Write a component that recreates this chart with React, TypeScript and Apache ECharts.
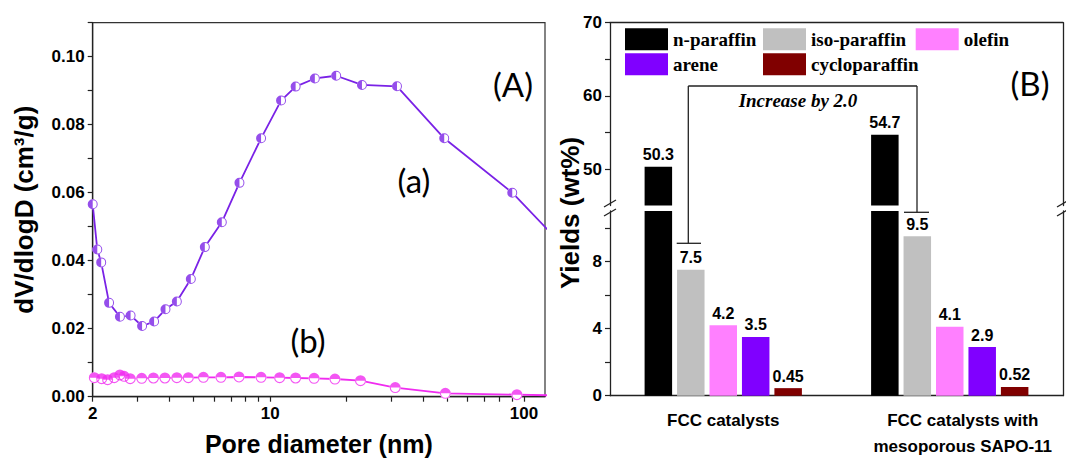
import React, { useEffect, useRef } from "react";
import * as echarts from "echarts";

// ---------- Panel A: pore size distribution ----------
const poreA = [2.0, 2.085, 2.16, 2.32, 2.56, 2.82, 3.13, 3.49, 3.87, 4.29, 4.87, 5.53, 6.45, 7.57, 9.21, 11.04, 12.6, 15.0, 18.2, 23.0, 31.6, 48.5, 89.9, 130];
const dvA = [0.0566, 0.0433, 0.0395, 0.0276, 0.0235, 0.0239, 0.0208, 0.0221, 0.0257, 0.028, 0.0346, 0.044, 0.0513, 0.0629, 0.076, 0.0871, 0.0912, 0.0936, 0.0944, 0.0917, 0.0913, 0.076, 0.06, 0.0475];
const poreB = [2.03, 2.17, 2.29, 2.43, 2.56, 2.66, 2.81, 3.12, 3.47, 3.85, 4.29, 4.76, 5.46, 6.4, 7.54, 9.21, 10.9, 12.6, 14.9, 18.0, 22.7, 31.1, 49.0, 93.8, 130];
const dvB = [0.0056, 0.0053, 0.005, 0.0056, 0.0064, 0.006, 0.0053, 0.0054, 0.0055, 0.0055, 0.0056, 0.0056, 0.0057, 0.0057, 0.0058, 0.0057, 0.0056, 0.0055, 0.0054, 0.0052, 0.0047, 0.0027, 0.001, 0.0006, 0.0004];

const xTickValues = [2, 3, 4, 5, 6, 7, 8, 9, 10, 20, 30, 40, 50, 60, 70, 80, 90, 100];
const xLabelValues = [2, 10, 100];
const yTickValuesA = [0, 0.01, 0.02, 0.03, 0.04, 0.05, 0.06, 0.07, 0.08, 0.09, 0.1, 0.11];
const yLabelValuesA = [0, 0.02, 0.04, 0.06, 0.08, 0.1];

// ---------- Panel B: product yields ----------
const catalysts = ["FCC catalysts", "FCC catalysts with\nmesoporous SAPO-11"];
const productNames = ["n-paraffin", "iso-paraffin", "olefin", "arene", "cycloparaffin"];
const nParaffin = [50.3, 54.7];
const isoParaffin = [7.5, 9.5];
const olefin = [4.2, 4.1];
const arene = [3.5, 2.9];
const cycloparaffin = [0.45, 0.52];
const productValues = [nParaffin, isoParaffin, olefin, arene, cycloparaffin];
const barColors = ["#000000", "#c0c0c0", "#ff80ff", "#8000ff", "#800000"];
const lowerTicks = [0, 2, 4, 6, 8, 10];
const lowerLabels = [0, 4, 8];
const upperTicks = [50, 55, 60, 65, 70];
const upperLabels = [50, 60, 70];

const SANS = "'Liberation Sans', Arial, sans-serif";
const SERIF = "'Liberation Serif', 'Times New Roman', serif";
const AX = "#222";
const PURPLE = "#7a22e6";
const MAGENTA = "#f02cf0";

const HALF_LEFT = "path://M10 0A10 10 0 0 0 10 20A10 10 0 0 0 10 0ZM10 2A8 8 0 0 1 10 18Z";
const HALF_TOP = "path://M0 10A10 10 0 0 1 20 10A10 10 0 0 1 0 10ZM2 10A8 8 0 0 0 18 10Z";

const pair = (xs: number[], ys: number[]) => xs.map((x, i) => [x, ys[i]]);

const axisLine = { show: true, onZero: false, lineStyle: { color: AX, width: 1.3 } };
const tickStyle = { color: AX, width: 1.2 };
const tickLabel = { fontSize: 17, fontWeight: "bold" as const, color: "#000", fontFamily: SANS };

export default function App() {
  const ref = useRef<HTMLDivElement>(null);
  useEffect(() => {
    if (!ref.current) return;
    const chart = echarts.init(ref.current, undefined, { renderer: "svg" });

    const barSeries: any[] = [];
    productNames.forEach((name, k) => {
      barSeries.push({
        type: "bar",
        name,
        xAxisIndex: 1,
        yAxisIndex: 1,
        data: productValues[k],
        barWidth: 27.5,
        barGap: "18%",
        clip: true,
        itemStyle: { color: barColors[k] },
        label: { show: k > 0, position: "top", distance: 4, fontSize: 16, fontWeight: "bold", color: "#000", fontFamily: SANS },
      });
      barSeries.push({
        type: "bar",
        name,
        xAxisIndex: 2,
        yAxisIndex: 2,
        data: productValues[k],
        barWidth: 27.5,
        barGap: "18%",
        clip: true,
        itemStyle: { color: barColors[k] },
        label: { show: k === 0, position: "top", distance: 4, fontSize: 16, fontWeight: "bold", color: "#000", fontFamily: SANS },
      });
    });

    const legendPos = [
      [625, 28.3],
      [763, 28.3],
      [915.7, 28.3],
      [625, 53.3],
      [763, 53.3],
    ];

    const line = (x1: number, y1: number, x2: number, y2: number) => ({
      type: "line",
      shape: { x1, y1, x2, y2 },
      style: { stroke: "#222", lineWidth: 1.3 },
      z: 100,
    });
    const txt = (text: string, x: number, y: number, font: string, extra: any = {}) => ({
      type: "text",
      x,
      y,
      z: 100,
      ...extra,
      style: { text, font, fill: "#000", align: "center", verticalAlign: "middle" },
    });

    chart.setOption({
      animation: false,
      textStyle: { fontFamily: SANS },
      grid: [
        { left: 92.7, top: 22.7, width: 452.3, height: 374, outerBoundsMode: "none", containLabel: false, show: true, borderColor: "#333", borderWidth: 1.2, backgroundColor: "transparent" },
        { left: 610, top: 211, width: 453, height: 184.7, outerBoundsMode: "none", containLabel: false },
        { left: 610, top: 22.7, width: 453, height: 182.9, outerBoundsMode: "none", containLabel: false },
      ],
      legend: productNames.map((n, i) => ({
        data: [n],
        left: legendPos[i][0],
        top: legendPos[i][1],
        padding: 0,
        itemGap: 0,
        itemWidth: 43,
        itemHeight: 22,
        icon: "rect",
        selectedMode: false,
        textStyle: { fontFamily: SERIF, fontWeight: "bold", fontSize: 19, color: "#000" },
      })),
      xAxis: [
        {
          type: "log",
          gridIndex: 0,
          min: 2,
          max: 121,
          logBase: 10,
          axisLine,
          axisTick: { show: true, customValues: xTickValues, length: 5, lineStyle: tickStyle },
          axisLabel: { ...tickLabel, customValues: xLabelValues, margin: 8 },
          splitLine: { show: false },
          name: "Pore diameter (nm)",
          nameLocation: "middle",
          nameGap: 35,
          nameTextStyle: { fontSize: 25, fontWeight: "bold", color: "#000", fontFamily: SANS },
        },
        {
          type: "category",
          gridIndex: 1,
          data: [catalysts[0], { value: catalysts[1], textStyle: { padding: [0, 0, 0, 26] } }],
          axisLine,
          axisTick: { show: false },
          axisLabel: { ...tickLabel, margin: 12, lineHeight: 26, interval: 0 },
        },
        {
          type: "category",
          gridIndex: 2,
          position: "top",
          data: catalysts,
          axisLine,
          axisTick: { show: false },
          axisLabel: { show: false },
        },
      ],
      yAxis: [
        {
          type: "value",
          gridIndex: 0,
          min: 0,
          max: 0.11,
          axisLine,
          axisTick: { show: true, customValues: yTickValuesA, length: 5, lineStyle: tickStyle },
          axisLabel: { ...tickLabel, customValues: yLabelValuesA, margin: 8, formatter: (v: number) => v.toFixed(2) },
          splitLine: { show: false },
          name: "dV/dlogD (cm\u00b3/g)",
          nameLocation: "middle",
          nameRotate: 90,
          nameGap: 56,
          nameTextStyle: { fontSize: 26, fontWeight: "bold", color: "#000", fontFamily: SANS },
        },
        {
          type: "value",
          gridIndex: 1,
          min: 0,
          max: 11,
          axisLine,
          axisTick: { show: true, customValues: lowerTicks, length: 5, lineStyle: tickStyle },
          axisLabel: { ...tickLabel, customValues: lowerLabels, margin: 8 },
          splitLine: { show: false },
        },
        {
          type: "value",
          gridIndex: 2,
          min: 45,
          max: 70,
          axisLine,
          axisTick: { show: true, customValues: upperTicks, length: 5, lineStyle: tickStyle },
          axisLabel: { ...tickLabel, customValues: upperLabels, margin: 8 },
          splitLine: { show: false },
        },
        {
          type: "value",
          gridIndex: 1,
          position: "right",
          min: 0,
          max: 11,
          axisLine,
          axisTick: { show: false },
          axisLabel: { show: false },
          splitLine: { show: false },
        },
        {
          type: "value",
          gridIndex: 2,
          position: "right",
          min: 45,
          max: 70,
          axisLine,
          axisTick: { show: false },
          axisLabel: { show: false },
          splitLine: { show: false },
        },
      ],
      series: [
        {
          type: "line",
          name: "a-line",
          xAxisIndex: 0,
          yAxisIndex: 0,
          data: pair(poreA, dvA),
          symbol: "circle",
          symbolSize: 10,
          showAllSymbol: true,
          clip: true,
          itemStyle: { color: "#fff", borderWidth: 0 },
          lineStyle: { color: PURPLE, width: 1.8 },
          z: 2,
        },
        {
          type: "scatter",
          name: "a-marker",
          xAxisIndex: 0,
          yAxisIndex: 0,
          data: pair(poreA, dvA),
          symbol: HALF_LEFT,
          symbolSize: 10,
          clip: true,
          itemStyle: { color: PURPLE },
          z: 3,
        },
        {
          type: "line",
          name: "b-line",
          xAxisIndex: 0,
          yAxisIndex: 0,
          data: pair(poreB, dvB),
          symbol: "circle",
          symbolSize: 11,
          showAllSymbol: true,
          clip: true,
          itemStyle: { color: "#fff", borderWidth: 0 },
          lineStyle: { color: MAGENTA, width: 1.8 },
          z: 2,
        },
        {
          type: "scatter",
          name: "b-marker",
          xAxisIndex: 0,
          yAxisIndex: 0,
          data: pair(poreB, dvB),
          symbol: HALF_TOP,
          symbolSize: 11,
          clip: true,
          itemStyle: { color: MAGENTA },
          z: 3,
        },
        ...barSeries,
      ],
      graphic: [
        txt("(A)", 513, 84, "33px Lato"),
        txt("(a)", 414, 180, "33px Lato"),
        txt("(b)", 308, 340, "33px Lato"),
        txt("(B)", 1030, 83, "33px Lato"),
        txt("Yields (wt%)", 570, 213, `bold 26px ${SANS}`, { rotation: Math.PI / 2 }),
        txt("Increase by 2.0", 798, 100.5, `italic bold 19px ${SERIF}`),
        // bracket annotation
        line(676.7, 243.3, 701, 243.3),
        line(688.3, 243.3, 688.3, 86),
        line(688.3, 86, 917, 86),
        line(917, 86, 917, 212.3),
        line(904, 212.3, 929, 212.3),
        // axis break marks
        line(604, 207, 616, 200),
        line(604, 216, 616, 209),
        line(1057, 207, 1069, 200),
        line(1057, 216, 1069, 209),
      ],
    });

    return () => chart.dispose();
  }, []);

  return <div ref={ref} style={{ position: "absolute", left: 0, top: 0, width: 1066, height: 461 }} />;
}
